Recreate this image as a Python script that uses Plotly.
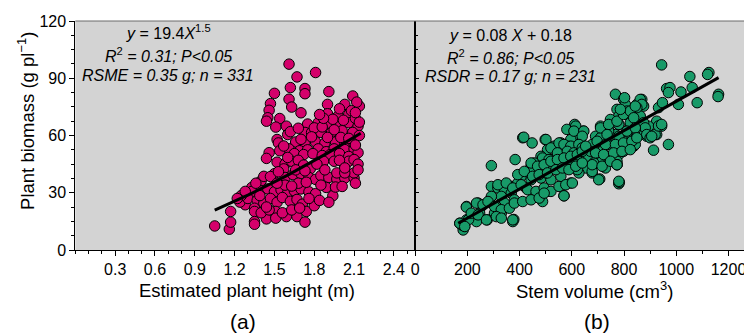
import plotly.graph_objects as go

# ---------------- data ----------------
# Panel (a): estimated plant height (m) vs plant biomass (g/plant)
height_m = [
    1.61, 1.81, 1.67, 1.62, 1.73, 1.73, 1.91, 1.50, 1.61, 2.09, 2.14, 2.12, 2.03, 2.06, 2.08, 1.90, 1.90, 1.63, 1.47, 1.46,
    1.70, 1.45, 1.44, 1.54, 1.51, 1.59, 1.60, 1.75, 1.83, 1.91, 1.98, 1.98, 2.06, 2.13, 1.52, 1.53,
    1.73, 1.78, 1.85, 1.93, 2.01, 2.09, 1.66, 1.73, 1.81, 1.88, 1.96, 2.03, 2.10,
    1.80, 1.86, 1.95, 2.00, 1.70, 1.78, 1.90, 2.06, 2.14, 1.62, 1.68, 1.94, 1.87, 2.11, 2.14, 2.02, 1.84, 1.99, 2.11,
    1.46, 1.54, 1.61, 1.69, 1.75, 1.83, 1.89, 1.95, 2.03, 2.10, 2.13, 2.11, 1.57, 1.65, 1.72, 1.79, 1.86, 1.92, 1.99, 2.06,
    1.52, 1.58, 1.63, 1.68, 1.72, 1.77, 1.87, 1.95, 2.03, 2.06, 2.10, 1.82, 1.99, 2.13, 1.60, 1.44, 1.57,
    1.50, 1.58, 1.64, 1.70, 1.76, 1.81, 1.85, 1.91, 1.97, 2.03, 2.10, 2.10, 1.97, 2.03, 2.03, 1.40, 1.42, 1.47, 1.53, 1.66,
    1.73, 1.88, 2.13, 2.11,
    1.33, 1.33, 1.40, 1.45, 1.50, 1.55, 1.60, 1.65, 1.70, 1.76, 1.81, 1.89, 1.94, 1.85, 1.58, 1.52, 1.68, 1.74, 1.63, 1.96,
    2.01, 1.36,
    1.28, 1.24, 1.30, 1.37, 1.42, 1.47, 1.52, 1.56, 1.62, 1.67, 1.71, 1.74, 1.80, 1.76, 1.84, 1.91, 1.39,
    1.35, 1.35, 1.35, 1.35, 1.44, 1.51, 1.51, 1.59, 1.67, 1.73, 1.40, 1.46, 1.56, 1.63, 1.69, 1.44,
    1.05, 1.16, 1.17, 1.17, 1.25, 1.28, 1.22,
]
biomass_a = [
    97.4, 93.0, 90.7, 85.1, 84.6, 81.9, 83.0, 82.1, 79.0, 80.7, 75.4, 77.5, 76.3, 71.0, 73.0, 76.3, 71.4, 74.9, 76.7, 73.2,
    71.9, 69.3, 67.5, 68.9, 64.4, 64.9, 60.5, 66.0, 66.7, 66.1, 70.2, 65.8, 66.7, 64.9, 57.9, 56.1,
    61.6, 61.6, 61.6, 61.6, 62.5, 61.6, 56.6, 56.1, 56.6, 56.1, 56.6, 55.8, 55.5,
    64.0, 64.5, 63.0, 59.0, 58.0, 59.3, 59.0, 58.5, 60.0, 62.0, 63.8, 68.5, 69.0, 69.0, 67.0, 68.0, 71.0, 74.0, 72.0,
    51.0, 52.0, 53.0, 52.0, 52.5, 53.0, 51.5, 53.0, 52.6, 53.0, 51.0, 55.0, 54.5, 50.5, 50.0, 50.5, 49.5, 50.0, 50.5, 49.0,
    46.0, 45.0, 46.5, 47.0, 44.5, 42.5, 46.5, 46.5, 44.0, 46.5, 47.4, 45.0, 47.0, 45.0, 48.5, 48.0, 42.5,
    40.0, 38.0, 39.5, 40.0, 38.0, 37.0, 39.0, 38.0, 37.2, 37.7, 37.7, 40.4, 40.4, 40.4, 43.0, 36.3, 38.6, 38.5, 41.0, 42.0,
    41.5, 42.0, 42.0, 35.0,
    32.8, 30.7, 31.0, 32.0, 30.5, 31.5, 30.0, 31.0, 32.0, 30.5, 29.5, 32.8, 28.4, 34.0, 34.0, 35.0, 35.0, 35.5, 33.5, 33.0,
    33.3, 35.0,
    23.7, 25.1, 27.0, 26.0, 24.5, 27.0, 25.0, 27.5, 25.5, 26.5, 24.0, 20.2, 23.2, 27.0, 26.0, 25.0, 28.5,
    21.9, 20.2, 14.9, 13.5, 16.3, 20.2, 16.7, 17.5, 17.5, 14.6, 19.5, 21.0, 19.5, 21.0, 22.0, 22.5,
    12.6, 10.9, 14.6, 20.2, 28.5, 30.7, 27.0,
]

# Panel (b): stem volume (cm3) vs plant biomass (g/plant)
volume_cm3 = [
    944, 1125, 1120, 1052, 1061, 1162, 1160, 1080, 1008, 1018, 963, 976, 970, 932, 947, 970, 913, 925, 944, 925,
    894, 887, 868, 849, 875, 767, 798, 805, 773, 811, 837,
    748, 716, 741, 780, 824, 849, 862, 691, 710, 735, 773, 811, 837, 862,
    684, 710, 735, 767, 798, 837, 684, 678, 707, 729, 773, 780, 782,
    611, 581, 644, 608, 634, 596, 412, 448, 498, 292, 383,
    507, 532, 558, 583, 608, 634, 659, 482, 520, 558, 596, 634, 659,
    444, 482, 513, 545, 583, 621, 653, 406, 444, 482, 520, 558, 596, 627,
    368, 393, 425, 463, 507, 570, 488, 292, 317, 342, 368, 330, 380, 342,
    292, 311, 304, 330, 374, 378, 241, 254, 197, 216, 247, 276, 235, 171, 184, 197, 180, 190, 205,
    875, 881, 887, 900, 919, 932, 944, 802, 862, 868, 849,
    780, 811, 824, 780, 748, 735, 811, 843, 843, 798, 767, 741, 710, 710, 691, 678, 672, 697, 716,
    741, 780, 773, 798, 735, 716, 684, 678, 703, 780, 773, 906,
    416, 501, 615, 608, 646, 640, 520, 551, 570, 596, 627, 545, 583, 608, 640, 488, 513, 539, 570, 602,
    627, 456, 482, 520, 558, 596, 621, 444, 501,
    710, 741, 773, 798, 824, 843, 786, 837, 735, 780, 811, 843, 697, 729, 767, 798, 830, 849,
    691, 722, 760, 792, 824, 678, 716, 748, 773,
    444, 469, 494, 520, 545, 570, 596, 621, 640, 653, 393, 418, 450, 475, 507, 539, 564, 589, 615, 640,
    317, 349, 374, 406, 431, 463, 494, 520, 551, 577, 602, 570,
    235, 260, 279, 304, 330, 361, 380, 412, 444, 475, 494, 196, 215, 241, 273, 311, 330, 374, 171, 190,
]
biomass_b = [
    97.0, 93.0, 92.0, 90.9, 85.1, 81.6, 80.4, 77.2, 76.3, 82.8, 84.6, 85.1, 82.5, 74.6, 77.2, 55.3, 52.3, 67.5, 64.9, 60.5,
    64.9, 59.6, 78.9, 76.3, 75.4, 81.6, 79.0, 76.3, 73.7, 72.8, 73.7,
    67.5, 64.0, 63.2, 65.8, 64.9, 66.7, 70.2, 59.6, 57.9, 56.1, 57.9, 59.6, 57.9, 60.5,
    52.6, 50.0, 47.4, 50.9, 52.6, 54.4, 44.7, 40.4, 37.2, 43.0, 44.7, 34.7, 35.5,
    65.8, 63.2, 62.3, 59.6, 56.1, 57.9, 58.8, 56.1, 57.9, 44.2, 47.4,
    52.6, 54.4, 56.1, 54.4, 52.6, 54.4, 52.6, 49.1, 47.4, 48.2, 49.1, 50.0, 47.4,
    43.9, 43.0, 42.1, 43.0, 43.9, 44.7, 43.0, 38.6, 36.8, 37.7, 36.8, 38.6, 35.1, 40.4,
    33.3, 35.1, 32.5, 29.8, 30.7, 28.4, 25.4, 33.3, 32.5, 31.6, 29.8, 28.1, 26.3, 24.6,
    28.1, 22.8, 19.3, 19.3, 14.9, 16.0, 24.6, 22.8, 22.8, 18.4, 19.3, 15.8, 14.9, 14.0, 10.5, 15.8, 13.0, 12.5, 16.0,
    66.7, 64.0, 60.5, 58.8, 60.5, 65.0, 65.8, 79.8, 78.9, 76.3, 74.6,
    70.2, 71.0, 66.7, 65.8, 68.4, 64.9, 61.4, 63.2, 55.3, 57.0, 60.5, 62.3, 64.9, 58.8, 56.1, 55.3, 51.7, 50.0, 46.5,
    48.2, 50.0, 46.5, 51.7, 55.3, 51.7, 45.6, 41.2, 36.8, 36.0, 44.7, 59.6,
    59.1, 57.9, 64.9, 62.3, 62.3, 59.6, 53.5, 56.1, 55.3, 54.4, 55.3, 50.9, 51.7, 50.9, 53.5, 48.2, 47.4, 46.5, 47.4, 46.5,
    47.4, 45.6, 43.9, 43.0, 43.9, 43.0, 42.1, 41.2, 40.4,
    64.0, 65.8, 67.5, 71.0, 72.8, 75.4, 73.7, 69.3, 60.5, 59.6, 62.3, 64.0, 57.0, 55.3, 55.3, 56.1, 57.0, 58.8,
    50.9, 50.0, 50.9, 51.7, 52.6, 44.7, 43.9, 46.5, 44.7,
    45.6, 43.9, 44.7, 46.5, 47.4, 48.2, 49.1, 50.0, 51.7, 54.4, 39.5, 41.2, 38.6, 39.5, 40.4, 42.1, 43.0, 42.1, 43.9, 45.6,
    34.2, 35.1, 32.5, 34.2, 31.6, 30.7, 32.5, 30.7, 33.3, 34.2, 35.1, 28.4,
    24.6, 23.7, 25.4, 22.8, 21.1, 21.9, 24.6, 25.4, 26.3, 27.2, 29.8, 22.5, 19.3, 18.4, 15.8, 17.5, 16.7, 15.8, 14.0, 12.3,
]

# Fitted models
fit_a_coef = 19.4
fit_a_exp = 1.5
fit_a_xrange = [1.05, 2.15]
fit_b_x = [165, 1162]
fit_b_y = [14.0, 90.3]

# Axis ticks
y_ticks = [0, 30, 60, 90, 120]
xa_ticks = [0.3, 0.6, 0.9, 1.2, 1.5, 1.8, 2.1, 2.4]
xb_ticks = [0, 200, 400, 600, 800, 1000, 1200]

# ---------------- figure ----------------
n_fit = 40
fit_a_x = [fit_a_xrange[0] + (fit_a_xrange[1] - fit_a_xrange[0]) * i / (n_fit - 1) for i in range(n_fit)]
fit_a_y = [fit_a_coef * x ** fit_a_exp for x in fit_a_x]

MAG = "#d4006b"
GRN = "#189a68"
BG = "#d3d3d3"
FONT = "Liberation Sans, Arial, Helvetica, sans-serif"

fig = go.Figure()
fig.add_trace(go.Scatter(x=height_m, y=biomass_a, mode="markers", xaxis="x", yaxis="y",
                         marker=dict(size=10.5, color=MAG, line=dict(color="black", width=1)),
                         showlegend=False))
fig.add_trace(go.Scatter(x=fit_a_x, y=fit_a_y, mode="lines", xaxis="x", yaxis="y",
                         line=dict(color="black", width=3), showlegend=False))
fig.add_trace(go.Scatter(x=volume_cm3, y=biomass_b, mode="markers", xaxis="x2", yaxis="y2",
                         marker=dict(size=10.5, color=GRN, line=dict(color="black", width=1)),
                         showlegend=False))
fig.add_trace(go.Scatter(x=fit_b_x, y=fit_b_y, mode="lines", xaxis="x2", yaxis="y2",
                         line=dict(color="black", width=3), showlegend=False))

# The page body has an 8 px margin, so the figure starts at (8, 8) in the window.
OFF = 8
WIN_W, WIN_H = 752, 333
W, H = WIN_W - OFF, WIN_H - OFF
T = 21 - OFF
B = WIN_H - 250
left = (71.7 - OFF) / W
split = (413.3 - OFF) / W

axis_common = dict(showgrid=False, zeroline=False, showline=True, linecolor="black", linewidth=1,
                   tickcolor="black", tickfont=dict(size=16, family=FONT, color="black"))

fig.update_layout(
    width=W, height=H,
    margin=dict(l=0, r=0, t=T, b=B, pad=0),
    paper_bgcolor="white", plot_bgcolor=BG,
    font=dict(family=FONT, color="black"),
    xaxis=dict(domain=[left, split], range=[0, 2.56], anchor="y",
               tickmode="array", tickvals=xa_ticks, ticktext=[f"{v:.1f}" for v in xa_ticks],
               ticks="outside", ticklen=5,
               minor=dict(tickmode="linear", tick0=0, dtick=0.1, ticks="outside", ticklen=3,
                          tickcolor="black", showgrid=False),
               **axis_common),
    yaxis=dict(domain=[0, 1], range=[0, 120], anchor="x",
               tickmode="array", tickvals=y_ticks, ticks="outside", ticklen=5, mirror=True,
               minor=dict(tickmode="linear", tick0=0, dtick=7.5, ticks="outside", ticklen=3,
                          tickcolor="black", showgrid=False),
               **axis_common),
    xaxis2=dict(domain=[split, 1], range=[0, 1290], anchor="y2",
                tickmode="array", tickvals=xb_ticks, ticks="outside", ticklen=5,
                minor=dict(tickmode="linear", tick0=0, dtick=100, ticks="outside", ticklen=3,
                           tickcolor="black", showgrid=False),
                **axis_common),
    yaxis2=dict(domain=[0, 1], range=[0, 120], anchor="x2",
                tickmode="array", tickvals=y_ticks, ticks="inside", ticklen=4, showticklabels=False,
                minor=dict(tickmode="linear", tick0=0, dtick=7.5, ticks="inside", ticklen=3,
                           tickcolor="black", showgrid=False),
                **axis_common),
)

# top border
fig.add_shape(type="line", xref="paper", yref="paper", x0=left, x1=1, y0=1, y1=1,
              line=dict(color="#6a6a6a", width=1))

ph = H - T - B


def py(pix):
    # pix: vertical position in window pixels
    return (WIN_H - B - pix) / ph


def px(pix):
    # pix: horizontal position in window pixels
    return (pix - OFF) / W


def ann(text, x, y, size, angle=0):
    fig.add_annotation(text=text, x=px(x), y=py(y), xref="paper", yref="paper", showarrow=False,
                       xanchor="center", yanchor="middle", textangle=angle,
                       font=dict(size=size, family=FONT, color="black"))


ann("<i>y</i> = 19.4<i>X</i><sup>1.5</sup>", 165, 32, 16)
ann("<i>R</i><sup>2</sup><i> = 0.31; P&lt;0.05</i>", 165, 55, 16)
ann("<i>RSME = 0.35 g; n = 331</i>", 165, 75, 16)

ann("<i>y</i> = 0.08 <i>X</i> + 0.18", 509, 35, 16)
ann("<i>R</i><sup>2</sup><i> = 0.86; P&lt;0.05</i>", 509, 57, 16)
ann("<i>RSDR = 0.17 g; n = 231</i>", 509, 76, 16)

ann("Estimated plant height (m)", 244, 290, 18.5)
ann("Stem volume (cm<sup>3</sup>)", 594, 290, 18.5)
ann("(a)", 240, 321, 21)
ann("(b)", 596, 321, 21)
ann("Plant biomass (g pl<sup>−1</sup>)", 22, 121, 18.5, angle=-90)

fig.write_html("out.html")
